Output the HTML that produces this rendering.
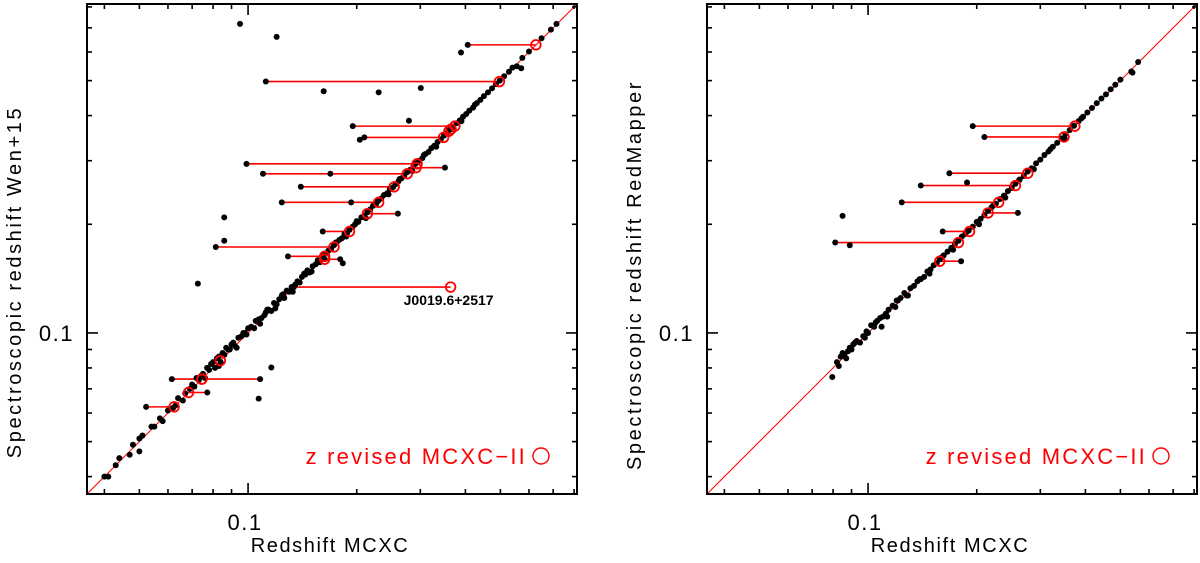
<!DOCTYPE html>
<html><head><meta charset="utf-8"><style>
html,body{margin:0;padding:0;background:#fff;}
svg{display:block;font-family:"Liberation Sans",sans-serif;}
</style></head><body>
<svg id="chart" width="1200" height="563" viewBox="0 0 1200 563"></svg>
<script>
const xMin=0.0358, xMax=0.815;
const minorTicks=[0.04,0.05,0.06,0.07,0.08,0.09,0.2,0.3,0.4,0.5,0.6,0.7,0.8];
const majorTicks=[0.1];
const tickLabels=["0.1"];
// Left panel (Wen+15)
const leftDiagX=[0.040,0.041,0.043,0.044,0.047,0.048,0.050,0.050,0.051,0.054,0.055,0.057,0.058,0.060,0.062,0.063,0.064,0.066,0.067,0.069,0.070,0.071,0.072,0.073,0.074,0.075,0.076,0.077,0.078,0.079,0.080,0.081,0.082,0.083,0.084,0.085,0.086,0.087,0.089,0.090,0.091,0.092,0.094,0.096,0.097,0.099,0.100,0.102,0.104,0.105,0.107,0.109,0.111,0.112,0.114,0.116,0.118,0.120,0.122,0.124,0.126,0.128,0.130,0.132,0.135,0.137,0.139,0.141,0.144,0.146,0.148,0.151,0.154,0.156,0.158,0.161,0.164,0.167,0.170,0.173,0.176,0.179,0.182,0.185,0.188,0.191,0.195,0.198,0.202,0.206,0.210,0.214,0.218,0.222,0.226,0.230,0.234,0.238,0.243,0.247,0.252,0.256,0.261,0.266,0.271,0.276,0.281,0.287,0.292,0.298,0.304,0.310,0.316,0.322,0.328,0.335,0.342,0.349,0.356,0.363,0.370,0.378,0.386,0.394,0.402,0.410,0.420,0.430,0.440,0.450,0.462,0.474,0.486,0.498,0.512,0.528,0.540,0.555,0.571,0.575,0.600,0.650,0.690,0.715,0.083,0.088,0.093,0.098,0.108,0.113,0.119,0.125,0.133,0.143,0.150,0.163,0.175,0.187,0.200,0.212,0.228,0.245,0.263,0.285,0.307,0.332,0.360,0.390,0.425];
const leftDiagY=[0.040,0.040,0.043,0.045,0.046,0.049,0.047,0.051,0.052,0.055,0.055,0.058,0.057,0.061,0.062,0.063,0.066,0.065,0.068,0.070,0.072,0.071,0.075,0.074,0.076,0.077,0.075,0.080,0.079,0.082,0.083,0.080,0.085,0.086,0.083,0.088,0.087,0.091,0.090,0.093,0.094,0.092,0.097,0.098,0.100,0.099,0.103,0.104,0.103,0.108,0.109,0.110,0.112,0.114,0.116,0.115,0.121,0.120,0.124,0.127,0.125,0.131,0.130,0.134,0.136,0.139,0.138,0.143,0.145,0.149,0.147,0.153,0.155,0.159,0.157,0.163,0.166,0.169,0.171,0.175,0.178,0.181,0.183,0.188,0.189,0.193,0.197,0.200,0.203,0.209,0.211,0.216,0.220,0.225,0.227,0.233,0.236,0.241,0.244,0.250,0.253,0.258,0.263,0.268,0.273,0.279,0.283,0.289,0.295,0.300,0.305,0.313,0.317,0.325,0.330,0.338,0.344,0.352,0.358,0.366,0.372,0.381,0.388,0.397,0.404,0.413,0.421,0.433,0.442,0.453,0.464,0.476,0.489,0.500,0.514,0.529,0.543,0.548,0.541,0.578,0.602,0.655,0.692,0.718,0.081,0.090,0.091,0.100,0.106,0.116,0.117,0.128,0.130,0.146,0.148,0.160,0.178,0.185,0.204,0.208,0.231,0.242,0.267,0.281,0.311,0.328,0.364,0.386,0.429];
const leftOutX=[0.095,0.120,0.389,0.162,0.230,0.301,0.279,0.204,0.0859,0.0859,0.0726,0.116,0.107,0.183,0.169,0.193];
const leftOutY=[0.718,0.661,0.598,0.467,0.464,0.477,0.387,0.343,0.209,0.180,0.137,0.0802,0.0658,0.156,0.276,0.230];
const leftSegOld=[0.406,0.112,0.195,0.210,0.099,0.351,0.110,0.140,0.124,0.260,0.161,0.0814,0.129,0.180,0.134,0.0615,0.108,0.0771,0.0522];
const leftSegY=[0.628,0.497,0.374,0.348,0.294,0.287,0.276,0.254,0.230,0.214,0.191,0.173,0.163,0.160,0.134,0.0745,0.0745,0.0684,0.0624];
const leftSegNew=[0.627,0.497,0.374,0.348,0.294,0.292,0.276,0.254,0.230,0.214,0.191,0.173,0.163,0.163,0.364,0.0745,0.0745,0.0684,0.0624];
const leftCircX=[0.0838,0.360,0.365];
const leftCircY=[0.0838,0.362,0.367];
// Right panel (RedMapper)
const rightDiagX=[0.0796,0.082,0.083,0.084,0.086,0.087,0.088,0.089,0.090,0.092,0.093,0.095,0.097,0.099,0.100,0.102,0.104,0.106,0.108,0.110,0.112,0.114,0.117,0.119,0.121,0.123,0.126,0.128,0.131,0.134,0.137,0.140,0.143,0.146,0.149,0.152,0.155,0.158,0.162,0.166,0.170,0.174,0.178,0.182,0.186,0.190,0.195,0.200,0.205,0.210,0.215,0.220,0.226,0.232,0.238,0.244,0.250,0.256,0.263,0.270,0.277,0.284,0.292,0.300,0.308,0.316,0.325,0.334,0.343,0.352,0.362,0.372,0.383,0.394,0.405,0.417,0.430,0.443,0.456,0.470,0.484,0.500,0.536,0.560,0.085,0.091,0.098,0.105,0.113,0.120,0.129,0.139,0.148,0.160,0.172,0.188,0.203,0.222,0.240,0.262,0.288,0.320,0.350,0.390];
const rightDiagY=[0.0755,0.083,0.081,0.086,0.087,0.085,0.089,0.091,0.090,0.094,0.095,0.094,0.098,0.101,0.100,0.105,0.104,0.108,0.110,0.111,0.113,0.116,0.119,0.118,0.123,0.125,0.129,0.127,0.133,0.135,0.139,0.141,0.143,0.148,0.150,0.154,0.156,0.160,0.164,0.168,0.172,0.176,0.180,0.185,0.188,0.192,0.197,0.203,0.207,0.212,0.218,0.223,0.228,0.235,0.240,0.247,0.252,0.259,0.266,0.272,0.280,0.286,0.295,0.302,0.311,0.318,0.328,0.336,0.346,0.355,0.365,0.375,0.386,0.397,0.408,0.420,0.433,0.446,0.458,0.473,0.487,0.503,0.530,0.563,0.088,0.093,0.097,0.107,0.111,0.123,0.127,0.141,0.146,0.162,0.170,0.191,0.200,0.225,0.237,0.265,0.284,0.323,0.346,0.393];
const rightOutX=[0.085,0.089,0.188,0.109,0.540];
const rightOutY=[0.211,0.175,0.261,0.104,0.526];
const rightSegOld=[0.195,0.210,0.168,0.140,0.124,0.260,0.161,0.0811,0.181];
const rightSegY=[0.374,0.349,0.277,0.256,0.230,0.215,0.191,0.178,0.158];
const rightSegNew=[0.374,0.349,0.277,0.256,0.230,0.215,0.191,0.178,0.158];

const NS="http://www.w3.org/2000/svg";
const svg=document.getElementById('chart');
function mk(tag,attrs,parent){const e=document.createElementNS(NS,tag);for(const k in attrs)e.setAttribute(k,attrs[k]);(parent||svg).appendChild(e);return e;}

function panel(px,py,size,o){
  const L=Math.log10(xMin),R=Math.log10(xMax);
  const sx=v=>px+(Math.log10(v)-L)/(R-L)*size;
  const sy=v=>py+size-(Math.log10(v)-L)/(R-L)*size;
  const g=mk('g',{});
  
  
  const dg=mk('line',{x1:px,y1:py+size,x2:px+size,y2:py,stroke:'#f00','stroke-width':1},g);
  
  
  for(let i=0;i<o.segOld.length;i++){
    const l=mk('line',{x1:sx(o.segOld[i]),y1:sy(o.segY[i]),x2:sx(o.segNew[i]),y2:sy(o.segY[i]),stroke:'#f00','stroke-width':1.6},g);
    
    
  }
  const dot=(x,y)=>{const c=mk('circle',{cx:sx(x),cy:sy(y),r:3,fill:'#000'},g);
    
    };
  for(let i=0;i<o.dx.length;i++)dot(o.dx[i],o.dy[i]);
  for(let i=0;i<o.ox.length;i++)dot(o.ox[i],o.oy[i]);
  for(let i=0;i<o.segOld.length;i++)dot(o.segOld[i],o.segY[i]);
  const circ=(x,y)=>{const c=mk('circle',{cx:sx(x),cy:sy(y),r:4.8,fill:'none',stroke:'#f00','stroke-width':1.8},g);
    
    };
  for(let i=0;i<o.segNew.length;i++)circ(o.segNew[i],o.segY[i]);
  for(let i=0;i<o.cx.length;i++)circ(o.cx[i],o.cy[i]);
  const tk=(v,len)=>{
    const x=sx(v),y=sy(v);
    for(const a of [[x,py+size,x,py+size-len],[x,py,x,py+len],[px,y,px+len,y],[px+size,y,px+size-len,y]]){
      const t=mk('line',{x1:a[0],y1:a[1],x2:a[2],y2:a[3],stroke:'#000','stroke-width':1.6},g);
      
      
    }
  };
  minorTicks.forEach(v=>tk(v,5));
  majorTicks.forEach(v=>tk(v,11));
  const box=mk('rect',{x:px,y:py,width:size,height:size,fill:'none',stroke:'#000','stroke-width':2},g);
  
  
  majorTicks.forEach((v,i)=>{
    const t1=mk('text',{x:sx(v)-3,y:py+size+36,'font-size':22,'text-anchor':'middle','letter-spacing':'1.5'},g);t1.textContent=tickLabels[i];
    
    
    const t2=mk('text',{x:px-13,y:sy(v)+8,'font-size':22,'text-anchor':'end','letter-spacing':'1.5'},g);t2.textContent=tickLabels[i];
    
    
  });
  const xt=mk('text',{x:px+size/2-2,y:py+size+58,'font-size':20,'text-anchor':'middle','letter-spacing':'1.6'},g);
  xt.textContent='Redshift MCXC';
  
  
  const yt=mk('text',{x:0,y:0,'font-size':20,'text-anchor':'middle','letter-spacing':'2.6',transform:`translate(${px-66},${py+o.ymid}) rotate(-90)`},g);
  yt.textContent=o.ytitle;
  
  
  const lg=mk('text',{x:px+size-50,y:py+size-30,'font-size':22,'text-anchor':'end',fill:'#f00','letter-spacing':'2.2'},g);
  lg.textContent='z revised MCXC\u2212II';
  
  
  const lc=mk('circle',{cx:px+size-36,cy:py+size-38,r:8,fill:'none',stroke:'#f00','stroke-width':1.4},g);
  
  
  return {sx,sy,g};
}
const A=panel(87,4,490,{name:'panel-wen15',ymid:278,dx:leftDiagX,dy:leftDiagY,ox:leftOutX,oy:leftOutY,segOld:leftSegOld,segY:leftSegY,segNew:leftSegNew,cx:leftCircX,cy:leftCircY,ytitle:'Spectroscopic redshift Wen+15'});
const ann=mk('text',{x:A.sx(0.364)-2,y:A.sy(0.134)+18,'font-size':14,'font-weight':'bold','text-anchor':'middle'},A.g);
ann.textContent='J0019.6+2517';


panel(707,4,490,{name:'panel-redmapper',ymid:271,dx:rightDiagX,dy:rightDiagY,ox:rightOutX,oy:rightOutY,segOld:rightSegOld,segY:rightSegY,segNew:rightSegNew,cx:[],cy:[],ytitle:'Spectroscopic redshift RedMapper'});
</script>
</body></html>
